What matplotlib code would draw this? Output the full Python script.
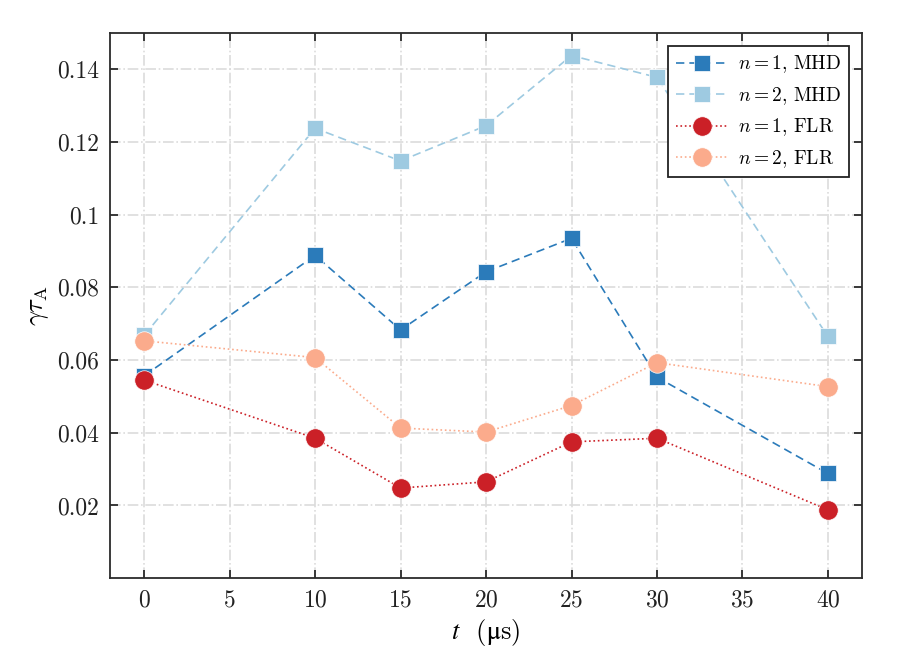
import matplotlib
matplotlib.use("Agg")
import matplotlib.pyplot as plt
from matplotlib.ticker import FuncFormatter

plt.rcParams['font.family'] = 'serif'
plt.rcParams['font.serif'] = ['cmr10']
plt.rcParams['mathtext.fontset'] = 'cm'
plt.rcParams['axes.formatter.use_mathtext'] = True

# data
t_us = [0, 10, 15, 20, 25, 30, 40]
n1_mhd = [0.0557, 0.0888, 0.0683, 0.0843, 0.0935, 0.0553, 0.0288]
n2_mhd = [0.0668, 0.1238, 0.1148, 0.1245, 0.1438, 0.1378, 0.0665]
n1_flr = [0.0545, 0.0385, 0.0248, 0.0265, 0.0375, 0.0385, 0.0188]
n2_flr = [0.0653, 0.0607, 0.0413, 0.0402, 0.0475, 0.0593, 0.0527]

c_blue = '#2b7bba'
c_lblue = '#9ecae1'
c_red = '#cb2027'
c_salmon = '#fbab8c'
spine = '#2b2b2b'

fig = plt.figure(figsize=(8.98, 6.60), dpi=100)
ax = fig.add_axes([0.1225, 0.124, 0.8375, 0.826])

ax.plot(t_us, n1_mhd, ls=(0, (5, 3)), color=c_blue, marker='s', ms=11,
        mec='white', mew=0.5, lw=1.2, label=r'$n = 1$, MHD', zorder=3)
ax.plot(t_us, n2_mhd, ls=(0, (5, 3)), color=c_lblue, marker='s', ms=11,
        mec='white', mew=0.5, lw=1.2, label=r'$n = 2$, MHD', zorder=3)
ax.plot(t_us, n1_flr, ls=':', color=c_red, marker='o', ms=14, mec='white',
        mew=0.5, lw=1.2, label=r'$n = 1$, FLR', zorder=3)
ax.plot(t_us, n2_flr, ls=':', color=c_salmon, marker='o', ms=14, mec='white',
        mew=0.5, lw=1.2, label=r'$n = 2$, FLR', zorder=3)

ax.set_xlim(-2, 42)
ax.set_ylim(0, 0.15)
ax.set_xticks([0, 5, 10, 15, 20, 25, 30, 35, 40])
ax.set_yticks([0.02, 0.04, 0.06, 0.08, 0.10, 0.12, 0.14])
ax.yaxis.set_major_formatter(FuncFormatter(lambda v, p: '%g' % v))

ax.grid(True, ls='-.', color='#dcdcdc', lw=1.2, zorder=0)
ax.tick_params(direction='in', top=True, right=True, length=6, width=1.3,
               colors=spine, labelsize=17, labelcolor='#222222', pad=8)
for s in ax.spines.values():
    s.set_color(spine)
    s.set_linewidth(1.3)

# upright micro sign via STIX math font
ax.set_xlabel(r'$t$  ($\mathrm{\mu}$s)', fontsize=19, math_fontfamily='stix')
ax.set_ylabel(r'$\gamma\tau_\mathrm{A}$', fontsize=19)

leg = ax.legend(loc='upper right', fontsize=14, fancybox=False,
                edgecolor='#222222', framealpha=1, borderaxespad=0.65,
                handlelength=2.7, handletextpad=0.5, labelspacing=0.5)
leg.get_frame().set_linewidth(1.3)

fig.savefig('out.png', dpi=100)
